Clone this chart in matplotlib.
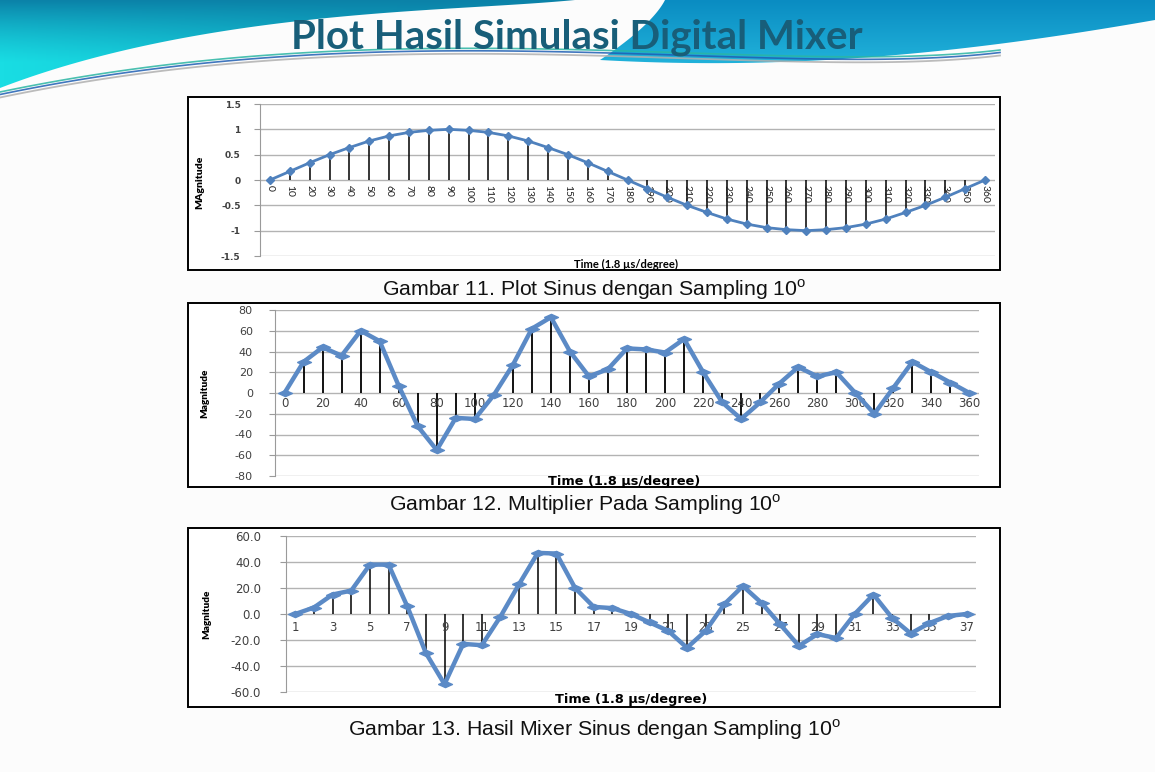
import numpy as np
import matplotlib.pyplot as plt
import matplotlib.colors as mcolors
from matplotlib.patches import Rectangle, PathPatch
from matplotlib.path import Path
import matplotlib.transforms as mtransforms

# ------------------------------------------------------------------
# Data
# ------------------------------------------------------------------
angles = list(range(0, 361, 10))
sinus_values = [0.00, 0.17, 0.34, 0.50, 0.64, 0.77, 0.87, 0.94, 0.98, 1.00,
                0.98, 0.94, 0.87, 0.77, 0.64, 0.50, 0.34, 0.17, 0.00, -0.17,
                -0.34, -0.50, -0.64, -0.77, -0.87, -0.94, -0.98, -1.00, -0.98,
                -0.94, -0.87, -0.77, -0.64, -0.50, -0.34, -0.17, 0.00]

multiplier_values = [0, 30, 44, 36, 60, 50, 7, -32, -55, -24, -25, -2, 27, 62,
                     73, 40, 16, 23, 43, 42, 39, 52, 20, -9, -25, -9, 9, 25,
                     16, 20, 0, -20, 5, 30, 20, 10, 0]

samples = list(range(1, 38))
mixer_values = [0, 5, 15, 18, 38, 38, 6, -30, -54, -23, -24, -2, 23, 47, 46.5,
                20, 5.5, 4.5, 0, -6.5, -13, -26, -13, 7.5, 21.5, 8.5, -8,
                -24.5, -15.5, -18.5, 0, 15, -3, -15, -7, -1.5, 0]

title = 'Plot Hasil Simulasi Digital Mixer'
captions = ['Gambar 11. Plot Sinus dengan Sampling 10$^\\mathregular{o}$',
            'Gambar 12. Multiplier Pada Sampling 10$^\\mathregular{o}$',
            'Gambar 13. Hasil Mixer Sinus dengan Sampling 10$^\\mathregular{o}$']

# ------------------------------------------------------------------
W, H = 1155, 772
fig = plt.figure(figsize=(W / 100, H / 100), dpi=100)
fig.patch.set_facecolor('#fcfcfc')
plt.rcParams['mathtext.fontset'] = 'custom'
plt.rcParams['mathtext.rm'] = 'Liberation Sans'


def rect(x0, y0, x1, y1):
    return [x0 / W, 1 - y1 / H, (x1 - x0) / W, (y1 - y0) / H]


bg = fig.add_axes([0, 0, 1, 1], zorder=0)
bg.set_xlim(0, W)
bg.set_ylim(H, 0)
bg.axis('off')


def bezier(pts, n=80):
    pts = np.array(pts, float)
    t = np.linspace(0, 1, n)[:, None]
    cur = [np.repeat(p[None, :], n, axis=0) for p in pts]
    while len(cur) > 1:
        cur = [(1 - t) * a + t * b for a, b in zip(cur[:-1], cur[1:])]
    return cur[0]


def gradient_fill(verts, c_top, c_bot, c_left=None):
    patch = PathPatch(Path(verts), fc='none', ec='none')
    bg.add_patch(patch)
    ny, nx = 100, 300
    yy = np.linspace(0, 1, ny)[:, None, None]
    xx = np.linspace(0, 1, nx)[None, :, None]
    top = np.array(mcolors.to_rgb(c_top))
    bot = np.array(mcolors.to_rgb(c_bot))
    img = np.broadcast_to(top * (1 - yy) + bot * yy, (ny, nx, 3)).copy()
    if c_left is not None:
        left = np.array(mcolors.to_rgb(c_left))
        wgt = np.clip(1 - xx * 2.0, 0, 1) * np.clip(yy * 1.6, 0, 1)
        img = img * (1 - wgt) + left * wgt
    im = bg.imshow(img, extent=(0, W, 100, 0), aspect='auto', zorder=1)
    im.set_clip_path(patch)


# top-left swoosh
c1 = bezier([(575, 0), (470, 10), (330, 10), (150, 30), (0, 88)])
verts1 = [(0, 0)] + [tuple(p) for p in c1] + [(0, 0)]
gradient_fill(verts1, '#0b82a8', '#12b9d3', c_left='#19dde3')

# right band
up = bezier([(600, 60), (645, 30), (660, 10), (665, 0)], 30)
low = bezier([(1155, 20), (950, 56), (780, 70), (600, 60)], 60)
verts2 = [tuple(p) for p in up] + [(1155, 0)] + [tuple(p) for p in low]
gradient_fill(verts2, '#0a8cc2', '#2ec8e8')

# thin streamers
for dy, col, lw in [(0, '#2ab5a3', 1.2), (2.5, '#1f5fb3', 1.2), (5.5, '#b0b0b0', 1.3)]:
    line = bezier([(0, 92 + dy), (250, 40 + dy), (520, 30 + dy), (800, 74 + dy), (1000, 50 + dy)], 120)
    bg.plot(line[:, 0], line[:, 1], color=col, lw=lw, alpha=0.85, zorder=2)

bg.text(577, 37, title, ha='center', va='center', fontsize=29, fontweight='bold',
        family='Lato', color='#185e79', zorder=3)

# chart frames
boxes = [(188, 97, 1000, 270), (188, 303, 1000, 487), (188, 528, 1000, 707)]
for x0, y0, x1, y1 in boxes:
    bg.add_patch(Rectangle((x0, y0), x1 - x0, y1 - y0, fc='white', ec='black', lw=1.4, zorder=4))

cap_pos = [(594, 290), (585, 505), (594, 730)]
for (cx, cy), cap in zip(cap_pos, captions):
    bg.text(cx, cy, cap, ha='center', va='center', fontsize=15.3,
            family='Liberation Sans', color='#111111')

LINE = '#4f81bd'
TICK = '#404040'
flat_diamond = [(-1, 0), (0, 0.45), (1, 0), (0, -0.45), (-1, 0)]


def style_axes(ax, ylim, yticks, ylabels, pad):
    ax.set_facecolor('none')
    ax.set_ylim(*ylim)
    ax.set_yticks(yticks)
    ax.set_yticklabels(ylabels)
    ax.grid(axis='y', color='#b3b3b3', lw=1)
    ax.set_axisbelow(True)
    for s in ['top', 'right', 'bottom']:
        ax.spines[s].set_visible(False)
    ax.spines['left'].set_color('#9a9a9a')
    ax.tick_params(axis='y', length=4, color='#9a9a9a', pad=pad, labelcolor=TICK)
    ax.tick_params(axis='x', length=0, labelbottom=False)


def x_labels(ax, pos, labels, dy, rot=0, **kw):
    trans = mtransforms.offset_copy(ax.transData, fig=fig, x=0, y=-dy, units='dots')
    for p, lab in zip(pos, labels):
        kw.setdefault('color', TICK)
        ax.text(p, 0, lab, transform=trans, ha='center', va='top', rotation=rot,
                clip_on=False, **kw)


# ---------------- chart 1 ----------------
ax1 = fig.add_axes(rect(260, 104, 995, 256), zorder=5)
idx1 = np.arange(len(angles))
ax1.vlines(idx1, 0, sinus_values, color='black', lw=1.1, zorder=3)
ax1.plot(idx1, sinus_values, color=LINE, lw=2, marker='D', ms=4.5, zorder=4)
ax1.set_xlim(-0.5, len(angles) - 0.5)
style_axes(ax1, (-1.5, 1.5), [-1.5, -1, -0.5, 0, 0.5, 1, 1.5],
           ['-1.5', '-1', '-0.5', '0', '0.5', '1', '1.5'], 10)
for t in ax1.get_yticklabels():
    t.set_fontsize(6.5)
    t.set_fontweight('bold')
x_labels(ax1, idx1, [str(a) for a in angles], 5, rot=-90, fontsize=7.5,
         family='Lato', color='#202020')
fig.text(200 / W, 1 - 182 / H, 'MAgnitude', rotation=90, ha='center', va='center',
         fontsize=7.5, fontweight='heavy', family='Lato')
fig.text(626 / W, 1 - 264 / H, 'Time (1.8 \u00b5s/degree)', ha='center', va='center',
         fontsize=8, fontweight='bold', family='Lato')

# ---------------- chart 2 ----------------
ax2 = fig.add_axes(rect(275, 310, 979, 476), zorder=5)
idx2 = np.arange(len(angles))
ax2.vlines(idx2, 0, multiplier_values, color='black', lw=1.3, zorder=3)
ax2.plot(idx2, multiplier_values, color='#5b8ac6', lw=3.2, marker=flat_diamond,
         ms=10, zorder=4)
ax2.set_xlim(-0.5, len(angles) - 0.5)
style_axes(ax2, (-80, 80), list(range(-80, 81, 20)),
           [str(v) for v in range(-80, 81, 20)], 12)
for t in ax2.get_yticklabels():
    t.set_fontsize(8)
x_labels(ax2, idx2[::2], [str(a) for a in angles[::2]], 4, fontsize=8.5)
fig.text(205 / W, 1 - 393 / H, 'Magnitude', rotation=90, ha='center', va='center',
         fontsize=7.2, fontweight='heavy', family='Lato')
fig.text(624 / W, 1 - 481 / H, 'Time (1.8 \u00b5s/degree)', ha='center', va='center',
         fontsize=9.3, fontweight='bold')

# ---------------- chart 3 ----------------
ax3 = fig.add_axes(rect(286, 536, 976, 692), zorder=5)
ax3.vlines(samples, 0, mixer_values, color='black', lw=1.1, zorder=3)
ax3.plot(samples, mixer_values, color='#5b8ac6', lw=3.2, marker=flat_diamond,
         ms=10, zorder=4)
ax3.set_xlim(0.5, len(samples) + 0.5)
style_axes(ax3, (-60, 60), list(range(-60, 61, 20)),
           ['%.1f' % v for v in range(-60, 61, 20)], 14)
for t in ax3.get_yticklabels():
    t.set_fontsize(8.5)
x_labels(ax3, samples[::2], [str(s) for s in samples[::2]], 7, fontsize=8.5)
fig.text(207 / W, 1 - 614 / H, 'Magnitude', rotation=90, ha='center', va='center',
         fontsize=7.2, fontweight='heavy', family='Lato')
fig.text(631 / W, 1 - 699 / H, 'Time (1.8 \u00b5s/degree)', ha='center', va='center',
         fontsize=9.3, fontweight='bold')

plt.savefig('out.png', dpi=100, facecolor=fig.get_facecolor())
